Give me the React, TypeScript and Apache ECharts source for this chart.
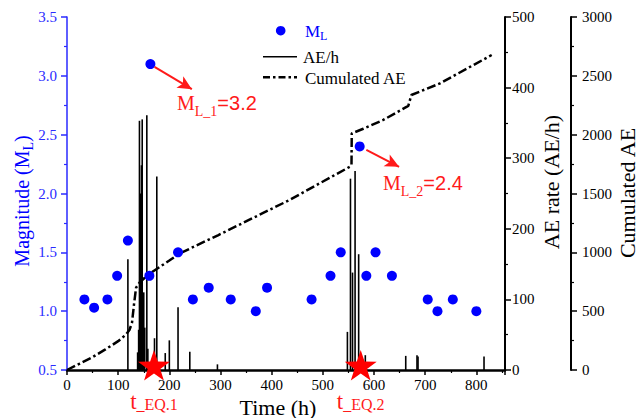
import React, { useEffect, useRef } from "react";
import * as echarts from "echarts";

// Magnitude events (time in h, local magnitude)
const magTimes = [34, 53, 79, 98, 119, 161, 163, 217, 246, 277, 320, 369, 391, 478, 515, 535, 572, 585, 603, 635, 705, 724, 754, 800];
const magValues = [1.1, 1.03, 1.1, 1.3, 1.6, 1.3, 3.1, 1.5, 1.1, 1.2, 1.1, 1.0, 1.2, 1.1, 1.3, 1.5, 2.4, 1.3, 1.5, 1.3, 1.1, 1.0, 1.1, 1.0];

// AE rate spikes (AE/h)
const aeTimes = [119, 138, 140, 141.6, 143, 144, 145.5, 147, 148.8, 150, 152, 156, 158, 171, 175.5, 192, 200, 217, 240, 294, 548, 554, 558, 563, 570, 583, 662, 684, 686, 815];
const aeValues = [157, 25, 57, 353, 200, 250, 290, 355, 57, 110, 60, 361, 30, 45, 274, 24, 42, 89, 26, 8, 54, 271, 138, 282, 164, 21, 20, 21, 19, 19];

// Cumulated AE
const cumTimes = [0, 25, 50, 75, 100, 115, 122, 127, 131, 135, 142, 160, 200, 220, 295, 435, 494, 553, 556, 556.5, 579, 618, 667, 673, 729, 830];
const cumValues = [0, 55, 110, 175, 245, 300, 340, 400, 560, 700, 745, 815, 930, 990, 1145, 1445, 1587, 1728, 1742, 2011, 2050, 2125, 2244, 2337, 2436, 2677];

// Earthquake times
const eqTimes = [170, 574];
const eqLevel = [0.54, 0.54];
const eqNames = ["EQ.1", "EQ.2"];

// Annotation arrows
const arrowStart = [[171, 3.077], [585, 2.37]];
const arrowEnd = [[244, 2.887], [649, 2.227]];

const SERIF = "Liberation Serif";
const SANS = "Liberation Sans";
const BLUE = "#0000ff";
const AXIS_BLUE = "#2a2aff";
const RED = "#ff1a1a";

const STAR = "path://M50,0 L61.8,35.1 L98.9,35.5 L69.1,57.6 L80.2,93 L50,71.5 L19.8,93 L30.9,57.6 L1.1,35.5 L38.2,35.1 Z";

export default function App() {
  const ref = useRef<HTMLDivElement>(null);
  useEffect(() => {
    if (!ref.current) return;
    const chart = echarts.init(ref.current, null, { renderer: "svg" });
    const blackAxis = (min: number, max: number, interval: number, offset: number, margin: number) => ({
      type: "value",
      min,
      max,
      interval,
      position: "right",
      offset,
      axisLine: { show: true, lineStyle: { color: "#000", width: 2 } },
      axisTick: { show: true, length: 6, lineStyle: { color: "#000", width: 1.5 } },
      minorTick: { show: true, splitNumber: 2, length: 3, lineStyle: { color: "#000", width: 1.2 } },
      axisLabel: { color: "#000", fontFamily: SERIF, fontSize: 15, margin, formatter: (v: number) => String(v) },
      splitLine: { show: false },
    });
    const option: any = {
      animation: false,
      backgroundColor: "#fff",
      textStyle: { fontFamily: SERIF },
      grid: { left: 67, right: 133, top: 17, bottom: 48 },
      xAxis: {
        type: "value",
        min: 0,
        max: 856,
        interval: 100,
        axisLine: { show: true, onZero: false, lineStyle: { color: "#000", width: 2.5 } },
        axisTick: { show: true, length: 5, lineStyle: { color: "#000", width: 1.5 } },
        minorTick: { show: true, splitNumber: 2, length: 3, lineStyle: { color: "#000", width: 1.2 } },
        axisLabel: { color: "#000", fontFamily: SERIF, fontSize: 15, margin: 7, showMaxLabel: false, formatter: (v: number) => String(v) },
        splitLine: { show: false },
      },
      yAxis: [
        {
          type: "value",
          min: 0.5,
          max: 3.5,
          interval: 0.5,
          position: "left",
          axisLine: { show: true, lineStyle: { color: AXIS_BLUE, width: 1.5 } },
          axisTick: { show: true, length: 6, lineStyle: { color: AXIS_BLUE, width: 1.5 } },
          minorTick: { show: true, splitNumber: 2, length: 3, lineStyle: { color: AXIS_BLUE, width: 1.2 } },
          axisLabel: { color: AXIS_BLUE, fontFamily: SERIF, fontSize: 15, margin: 10, formatter: (v: number) => v.toFixed(1) },
          splitLine: { show: false },
        },
        blackAxis(0, 500, 100, 0, 7),
        blackAxis(0, 3000, 500, 66, 11),
      ],
      series: [
        {
          name: "AE/h",
          type: "bar",
          xAxisIndex: 0,
          yAxisIndex: 1,
          barWidth: 1.6,
          itemStyle: { color: "#000" },
          data: aeTimes.map((t, i) => [t, aeValues[i]]),
          z: 2,
        },
        {
          name: "Cumulated AE",
          type: "line",
          yAxisIndex: 2,
          showSymbol: false,
          symbol: "none",
          lineStyle: { color: "#000", width: 2.5, type: [9, 3, 2.5, 3] },
          data: cumTimes.map((t, i) => [t, cumValues[i]]),
          z: 3,
        },
        {
          name: "ML",
          type: "scatter",
          yAxisIndex: 0,
          symbolSize: 10,
          itemStyle: { color: BLUE, opacity: 1 },
          data: magTimes.map((t, i) => [t, magValues[i]]),
          z: 4,
          markLine: {
            silent: true,
            symbol: ["none", "arrow"],
            symbolSize: [10, 14],
            label: { show: false },
            lineStyle: { color: RED, width: 2, type: "solid", opacity: 1 },
            data: arrowStart.map((s, i) => [{ coord: s }, { coord: arrowEnd[i] }]),
          },
        },
        {
          name: "EQ",
          type: "scatter",
          yAxisIndex: 0,
          symbol: STAR,
          symbolKeepAspect: true,
          symbolSize: 32,
          itemStyle: { color: "#ff0000", opacity: 1 },
          clip: false,
          z: 5,
          label: {
            show: true,
            position: "bottom",
            distance: 9,
            formatter: (p: any) => `{t|t}{s|_${eqNames[p.dataIndex]}}`,
            rich: {
              t: { fontFamily: SERIF, fontSize: 23, lineHeight: 23, color: RED, verticalAlign: "bottom" },
              s: { fontFamily: SERIF, fontSize: 16, lineHeight: 16, color: RED, verticalAlign: "bottom" },
            },
          },
          data: eqTimes.map((t, i) => [t, eqLevel[i]]),
        },
      ],
      graphic: [
        // legend
        { type: "circle", shape: { cx: 280.7, cy: 30.7, r: 4.8 }, style: { fill: BLUE } },
        {
          type: "text", x: 305, y: 31,
          style: {
            text: "{m|M}{s|L}", verticalAlign: "middle", align: "left",
            rich: {
              m: { fontFamily: SERIF, fontSize: 17, lineHeight: 22, fill: BLUE, verticalAlign: "middle" },
              s: { fontFamily: SERIF, fontSize: 12, lineHeight: 12, fill: BLUE, verticalAlign: "bottom" },
            },
          },
        },
        { type: "line", shape: { x1: 263, y1: 56.7, x2: 297, y2: 56.7 }, style: { stroke: "#000", lineWidth: 1.6 } },
        { type: "text", x: 303, y: 57, style: { text: "AE/h", fontFamily: SERIF, fontSize: 17, fill: "#000", verticalAlign: "middle" } },
        { type: "line", shape: { x1: 263, y1: 77.3, x2: 297, y2: 77.3 }, style: { stroke: "#000", lineWidth: 2.5, lineDash: [7, 3, 2.5, 3] } },
        { type: "text", x: 305, y: 78, style: { text: "Cumulated AE", fontFamily: SERIF, fontSize: 17, fill: "#000", verticalAlign: "middle" } },
        // axis titles
        {
          type: "text", x: 22, y: 201, rotation: Math.PI / 2,
          style: {
            text: "{a|Magnitude (M}{s|L}{a|)}", align: "center", verticalAlign: "middle",
            rich: {
              a: { fontFamily: SERIF, fontSize: 20, lineHeight: 26, fill: BLUE, verticalAlign: "middle" },
              s: { fontFamily: SERIF, fontSize: 14, lineHeight: 14, fill: BLUE, verticalAlign: "bottom" },
            },
          },
        },
        { type: "text", x: 551, y: 182, rotation: Math.PI / 2, style: { text: "AE rate (AE/h)", fontFamily: SERIF, fontSize: 22, fill: "#000", align: "center", verticalAlign: "middle" } },
        { type: "text", x: 627, y: 193, rotation: Math.PI / 2, style: { text: "Cumulated AE", fontFamily: SERIF, fontSize: 22, fill: "#000", align: "center", verticalAlign: "middle" } },
        { type: "text", x: 278, y: 407, style: { text: "Time (h)", fontFamily: SERIF, fontSize: 22, fill: "#000", align: "center", verticalAlign: "middle" } },
        // annotations
        {
          type: "text", x: 177, y: 103,
          style: {
            text: "{m|M}{s|L_1}{n|=3.2}", align: "left", verticalAlign: "middle",
            rich: {
              m: { fontFamily: SERIF, fontSize: 20, lineHeight: 30, fill: RED, verticalAlign: "middle" },
              s: { fontFamily: SERIF, fontSize: 14, lineHeight: 14, fill: RED, verticalAlign: "bottom" },
              n: { fontFamily: SANS, fontSize: 20, lineHeight: 30, fill: RED, verticalAlign: "middle" },
            },
          },
        },
        {
          type: "text", x: 383, y: 183,
          style: {
            text: "{m|M}{s|L_2}{n|=2.4}", align: "left", verticalAlign: "middle",
            rich: {
              m: { fontFamily: SERIF, fontSize: 20, lineHeight: 30, fill: RED, verticalAlign: "middle" },
              s: { fontFamily: SERIF, fontSize: 14, lineHeight: 14, fill: RED, verticalAlign: "bottom" },
              n: { fontFamily: SANS, fontSize: 20, lineHeight: 30, fill: RED, verticalAlign: "middle" },
            },
          },
        },
      ],
    };
    chart.setOption(option);
    return () => chart.dispose();
  }, []);
  return <div ref={ref} style={{ width: 638, height: 418, position: "absolute", left: 0, top: 0 }} />;
}
